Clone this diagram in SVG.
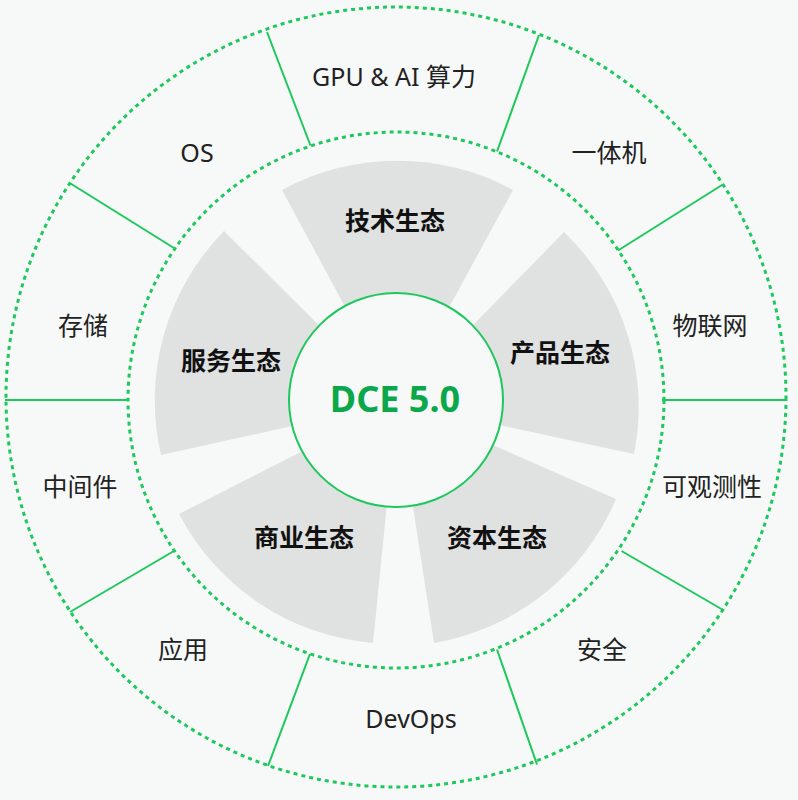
<svg xmlns="http://www.w3.org/2000/svg" width="798" height="800" viewBox="0 0 798 800">
<style>
.bg{fill:#f7f9f8}
.sector{fill:#e0e1e1}
.ring{fill:none;stroke:#1ec85c;stroke-width:3;stroke-dasharray:4 4}
.div{stroke:#1ec85c;stroke-width:2;fill:none}
.hub{fill:#f7f9f8;stroke:#1ec85c;stroke-width:2}
.lbl{font-family:"Noto Sans","Noto Sans CJK SC",sans-serif;font-size:25px;fill:#222;text-anchor:middle}
.eco{font-family:"Noto Sans","Noto Sans CJK SC",sans-serif;font-size:25px;font-weight:bold;fill:#111;text-anchor:middle}
.title{font-family:"Noto Sans","Noto Sans CJK SC",sans-serif;font-size:36px;font-weight:bold;fill:#0ba84b;text-anchor:middle}
</style>
<rect class="bg" x="0" y="0" width="798" height="800"/>
<g id="sectors">
<g id="tech"><path class="sector" d="M397,403 L282,190 A242,242 0 0 1 513,190 Z"/><text class="eco" x="395" y="230">技术生态</text></g>
<g id="product"><path class="sector" d="M397,403 L564,232 A242,242 0 0 1 634,454 Z"/><text class="eco" x="560" y="362">产品生态</text></g>
<g id="capital"><path class="sector" d="M397,403 L616,499 A242,242 0 0 1 434,643 Z"/><text class="eco" x="497" y="547">资本生态</text></g>
<g id="business"><path class="sector" d="M397,403 L373,643 A242,242 0 0 1 179,514 Z"/><text class="eco" x="304" y="547">商业生态</text></g>
<g id="service"><path class="sector" d="M397,403 L161,455 A242,242 0 0 1 224,231 Z"/><text class="eco" x="231" y="370">服务生态</text></g>
</g>
<g id="rings">
<circle class="ring" cx="396" cy="397" r="390"/>
<circle class="ring" cx="396" cy="400" r="268"/>
</g>
<g id="connectors">
<line class="div" x1="267" y1="32" x2="310.5" y2="145.5"/>
<line class="div" x1="539" y1="35" x2="497" y2="151.5"/>
<line class="div" x1="70.5" y1="183.5" x2="174" y2="248"/>
<line class="div" x1="5" y1="400" x2="128" y2="400"/>
<line class="div" x1="70" y1="612" x2="174" y2="551"/>
<line class="div" x1="268" y1="766" x2="310" y2="654"/>
<line class="div" x1="537" y1="764.5" x2="497" y2="649.5"/>
<line class="div" x1="724" y1="610.5" x2="621.5" y2="551"/>
<line class="div" x1="662" y1="400" x2="787" y2="400"/>
<line class="div" x1="722" y1="185" x2="618" y2="250.5"/>
</g>
<g id="hub"><circle class="hub" cx="396" cy="400" r="107"/><text class="title" x="395" y="412">DCE 5.0</text></g>
<g id="labels">
<g id="gpu"><text class="lbl" x="394" y="86">GPU &amp; AI 算力</text></g>
<g id="aio"><text class="lbl" x="609" y="162">一体机</text></g>
<g id="iot"><text class="lbl" x="710" y="335">物联网</text></g>
<g id="obs"><text class="lbl" x="712" y="496">可观测性</text></g>
<g id="sec"><text class="lbl" x="602" y="659">安全</text></g>
<g id="devops"><text class="lbl" x="411" y="728">DevOps</text></g>
<g id="app"><text class="lbl" x="183" y="659">应用</text></g>
<g id="mw"><text class="lbl" x="80" y="496">中间件</text></g>
<g id="storage"><text class="lbl" x="83" y="335">存储</text></g>
<g id="os"><text class="lbl" x="197" y="162">OS</text></g>
</g>
</svg>
